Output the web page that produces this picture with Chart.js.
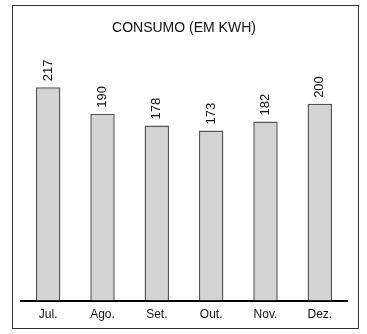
<!DOCTYPE html>
<html lang="pt">
<head>
  <meta charset="UTF-8">
  <title>Consumo (em kWh)</title>
  <script src="https://cdn.jsdelivr.net/npm/chart.js"></script>
  <style>
    body { margin: 0; background: #fff; }
    canvas { display: block; }
  </style>
</head>
<body>
  <canvas id="consumoChart" width="367" height="334"></canvas>
  <script>
    // dados
    const meses = ['Jul.', 'Ago.', 'Set.', 'Out.', 'Nov.', 'Dez.'];
    const consumo = [217, 190, 178, 173, 182, 200];

    // moldura externa
    const molduraPlugin = {
      id: 'moldura',
      beforeDraw(chart) {
        const c = chart.ctx;
        c.save();
        c.fillStyle = '#fff';
        c.fillRect(0, 0, chart.width, chart.height);
        c.strokeStyle = '#333';
        c.lineWidth = 1;
        c.strokeRect(12.5, 5.5, 346, 323);
        c.restore();
      }
    };

    // valores verticais acima das barras
    const valoresPlugin = {
      id: 'valores',
      afterDatasetsDraw(chart) {
        const c = chart.ctx;
        const meta = chart.getDatasetMeta(0);
        c.save();
        c.fillStyle = '#111';
        c.font = '13px "Liberation Sans", Arial, sans-serif';
        c.textAlign = 'left';
        c.textBaseline = 'middle';
        meta.data.forEach((bar, i) => {
          c.save();
          c.translate(bar.x, bar.y - 6);
          c.rotate(-Math.PI / 2);
          c.fillText(String(consumo[i]), 0, 0);
          c.restore();
        });
        c.restore();
      }
    };

    const ctx = document.getElementById('consumoChart').getContext('2d');
    const chart = new Chart(ctx, {
      type: 'bar',
      data: {
        labels: meses,
        datasets: [{
          data: consumo,
          backgroundColor: '#d3d3d3',
          borderColor: '#555',
          borderWidth: 1.5,
          borderSkipped: 'bottom',
          barPercentage: 0.45,
          categoryPercentage: 1
        }]
      },
      options: {
        responsive: false,
        animation: false,
        layout: { padding: { top: 10, left: 21, right: 20, bottom: 5 } },
        plugins: {
          legend: { display: false },
          tooltip: { enabled: false },
          title: {
            display: true,
            text: 'CONSUMO (EM KWH)',
            color: '#111',
            font: { family: '"Liberation Sans", Arial, sans-serif', size: 14, weight: 'normal' },
            padding: { top: 10, bottom: 10 }
          }
        },
        scales: {
          x: {
            grid: { display: false, drawTicks: false },
            border: { display: true, color: '#000', width: 2 },
            ticks: {
              color: '#111',
              padding: 7,
              font: { family: '"Liberation Sans", Arial, sans-serif', size: 12 }
            }
          },
          y: {
            display: false,
            min: 0,
            max: 258
          }
        }
      },
      plugins: [molduraPlugin, valoresPlugin]
    });
  </script>
</body>
</html>
